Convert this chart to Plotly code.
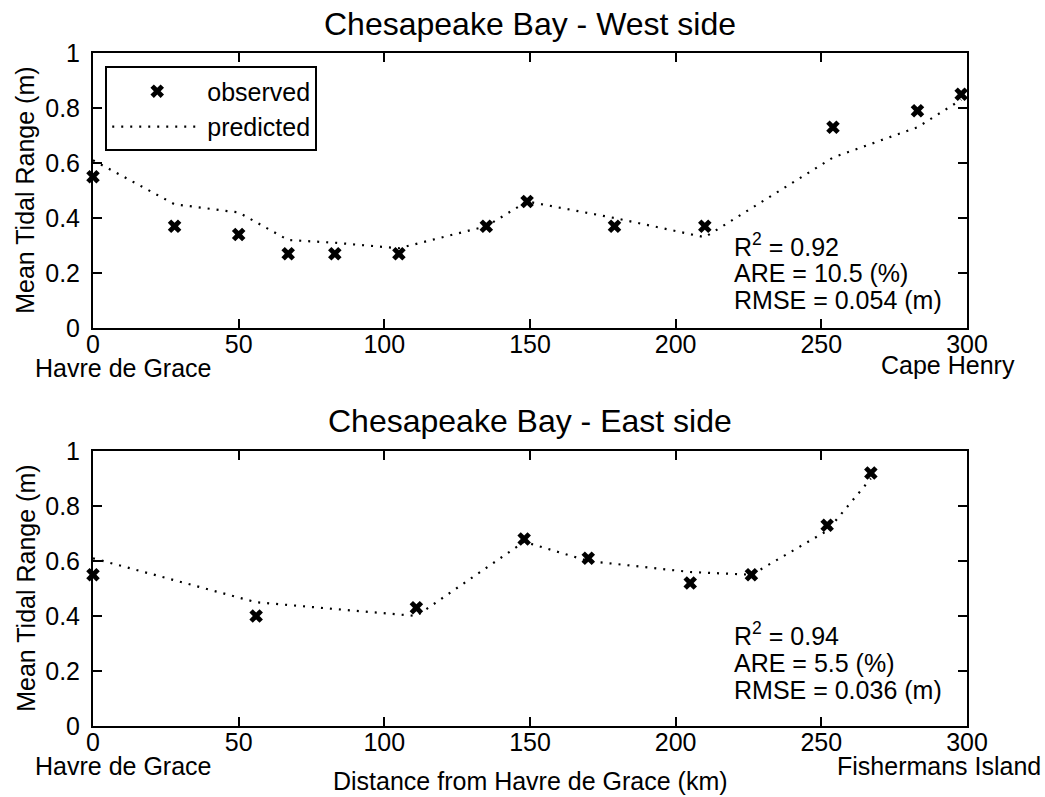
import plotly.graph_objects as go

# ---------------- data ----------------
west_x = [0, 28, 50, 67, 83, 105, 135, 149, 179, 210, 254, 283, 298]
west_obs = [0.55, 0.37, 0.34, 0.27, 0.27, 0.27, 0.37, 0.46, 0.37, 0.37, 0.73, 0.79, 0.85]
west_pred = [0.61, 0.45, 0.42, 0.32, 0.31, 0.29, 0.37, 0.46, 0.40, 0.33, 0.62, 0.73, 0.83]

east_x = [0, 56, 111, 148, 170, 205, 226, 252, 267]
east_obs = [0.55, 0.40, 0.43, 0.68, 0.61, 0.52, 0.55, 0.73, 0.92]
east_pred = [0.61, 0.45, 0.40, 0.67, 0.60, 0.56, 0.55, 0.71, 0.90]

x_ticks = [0, 50, 100, 150, 200, 250, 300]
y_ticks = [0, 0.2, 0.4, 0.6, 0.8, 1]

west_stats = ["R<sup>2</sup> = 0.92", "ARE = 10.5 (%)", "RMSE = 0.054 (m)"]
east_stats = ["R<sup>2</sup> = 0.94", "ARE = 5.5 (%)", "RMSE = 0.036 (m)"]

FONT = "Liberation Sans, Arial, Helvetica, sans-serif"
FS = 25

fig = go.Figure()

dot_style = dict(color="black", width=2.2, dash="2px,7px")
mk = dict(symbol="x", size=12, color="black", line=dict(width=0))

fig.add_trace(go.Scatter(x=west_x, y=west_obs, mode="markers", marker=mk, name="observed",
                         xaxis="x", yaxis="y", cliponaxis=False, showlegend=True))
fig.add_trace(go.Scatter(x=west_x, y=west_pred, mode="lines", line=dot_style, name="predicted",
                         xaxis="x", yaxis="y", showlegend=True))
fig.add_trace(go.Scatter(x=east_x, y=east_obs, mode="markers", marker=mk, name="observed",
                         xaxis="x2", yaxis="y2", cliponaxis=False, showlegend=False))
fig.add_trace(go.Scatter(x=east_x, y=east_pred, mode="lines", line=dot_style, name="predicted",
                         xaxis="x2", yaxis="y2", showlegend=False))

axis_common = dict(showline=True, linecolor="black", linewidth=2, mirror="ticks",
                   ticks="inside", ticklen=9, tickwidth=2, tickcolor="black",
                   showgrid=False, zeroline=False,
                   tickfont=dict(family=FONT, size=FS, color="black"))

fig.update_layout(
    width=1045, height=797, autosize=False,
    margin=dict(l=93, r=78, t=53, b=71),
    paper_bgcolor="white", plot_bgcolor="white",
    font=dict(family=FONT, size=FS, color="black"),
    xaxis=dict(domain=[0, 1], range=[0, 300], tickvals=x_ticks, anchor="y",
               ticklabelstandoff=-7, **axis_common),
    yaxis=dict(domain=[0.5914, 1], range=[0, 1], tickvals=y_ticks, anchor="x",
               ticklabelstandoff=6, **axis_common),
    xaxis2=dict(domain=[0, 1], range=[0, 300], tickvals=x_ticks, anchor="y2",
                ticklabelstandoff=-7, **axis_common),
    yaxis2=dict(domain=[0, 0.4086], range=[0, 1], tickvals=y_ticks, anchor="x2",
                ticklabelstandoff=6, **axis_common),
    legend=dict(x=0.014, y=0.98, xanchor="left", yanchor="top",
                bordercolor="black", borderwidth=2, bgcolor="white",
                font=dict(family=FONT, size=FS, color="black"),
                itemwidth=90, tracegroupgap=0),
)

ann = []
# titles
ann.append(dict(text="Chesapeake Bay - West side", xref="x domain", yref="paper", x=0.5, y=1.043,
                xanchor="center", yanchor="middle", showarrow=False, font=dict(size=32)))
ann.append(dict(text="Chesapeake Bay - East side", xref="x2 domain", yref="paper", x=0.5, y=0.4532,
                xanchor="center", yanchor="middle", showarrow=False, font=dict(size=32)))
# stats
for t, yv in zip(west_stats, [0.2375, 0.1425, 0.0436]):
    ann.append(dict(text=t, xref="x", yref="y", x=219.5, y=yv, xanchor="left", yanchor="bottom",
                    showarrow=False, align="left"))
for t, yv in zip(east_stats, [0.269, 0.171, 0.073]):
    ann.append(dict(text=t, xref="x2", yref="y2", x=219.5, y=yv, xanchor="left", yanchor="bottom",
                    showarrow=False, align="left"))
# place labels (domain refs so they are not hidden outside the axis range)
ann.append(dict(text="Havre de Grace", xref="x domain", yref="y domain", x=-0.0683, y=-0.147,
                xanchor="left", yanchor="middle", showarrow=False))
ann.append(dict(text="Cape Henry", xref="x domain", yref="y domain", x=1.0567, y=-0.135,
                xanchor="right", yanchor="middle", showarrow=False))
ann.append(dict(text="Havre de Grace", xref="x2 domain", yref="y2 domain", x=-0.0683, y=-0.147,
                xanchor="left", yanchor="middle", showarrow=False))
ann.append(dict(text="Fishermans Island", xref="x2 domain", yref="y2 domain", x=1.0867, y=-0.147,
                xanchor="right", yanchor="middle", showarrow=False))
# axis titles
ann.append(dict(text="Distance from Havre de Grace (km)", xref="x2 domain", yref="y2 domain",
                x=0.5, y=-0.2, xanchor="center", yanchor="middle", showarrow=False))
ann.append(dict(text="Mean Tidal Range (m)", xref="paper", yref="y domain", x=-0.0775, y=0.5,
                xanchor="center", yanchor="middle", textangle=-90, showarrow=False))
ann.append(dict(text="Mean Tidal Range (m)", xref="paper", yref="y2 domain", x=-0.0775, y=0.5,
                xanchor="center", yanchor="middle", textangle=-90, showarrow=False))

fig.update_layout(annotations=ann)

fig.write_html("out.html")
